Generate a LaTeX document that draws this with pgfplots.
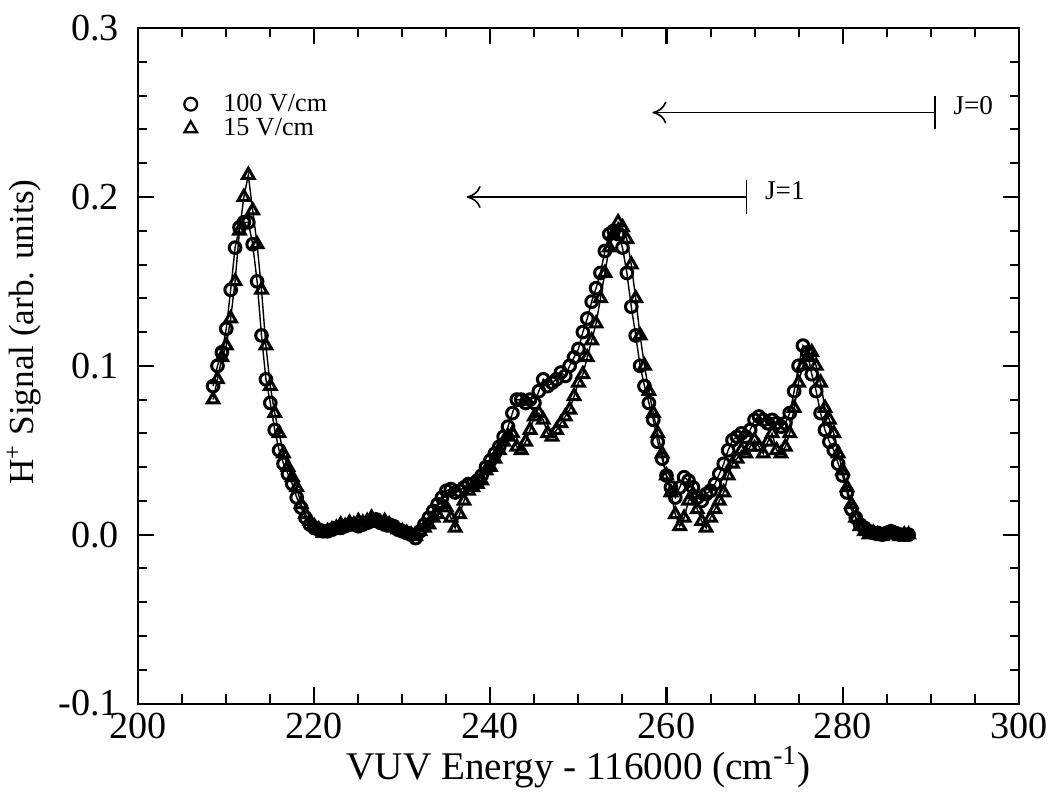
\documentclass[border=0pt]{standalone}
\usepackage{fontspec}
\setmainfont{Liberation Serif}
\usepackage{pgfplots}
\pgfplotsset{compat=1.18}
\usepackage{pgfplotstable}
\usetikzlibrary{arrows.meta}

\pgfplotstableread{
x y
208.5 0.088
209 0.100
209.5 0.108
210 0.122
210.5 0.145
211 0.170
211.5 0.182
212 0.185
212.5 0.185
213 0.172
213.5 0.150
214 0.118
214.5 0.092
215 0.078
215.5 0.062
216 0.050
216.5 0.042
217 0.036
217.5 0.030
218 0.022
218.5 0.016
219 0.010
219.5 0.006
220 0.004
220.5 0.003
221 0.002
221.5 0.002
222 0.003
222.5 0.004
223 0.004
223.5 0.005
224 0.006
224.5 0.006
225 0.005
225.5 0.006
226 0.007
226.5 0.008
227 0.009
227.5 0.007
228 0.006
228.5 0.006
229 0.005
229.5 0.003
230 0.002
230.5 0.001
231 0.000
231.5 -0.002
232 0.002
232.5 0.006
233 0.010
233.5 0.014
234 0.018
234.5 0.022
235 0.026
235.5 0.027
236 0.025
236.5 0.026
237 0.028
237.5 0.030
238 0.030
238.5 0.032
239 0.035
239.5 0.040
240 0.044
240.5 0.048
241 0.052
241.5 0.058
242 0.064
242.5 0.072
243 0.080
243.5 0.080
244 0.078
244.5 0.080
245 0.078
245.5 0.085
246 0.092
246.5 0.088
247 0.090
247.5 0.092
248 0.096
248.5 0.094
249 0.100
249.5 0.105
250 0.110
250.5 0.120
251 0.128
251.5 0.138
252 0.146
252.5 0.155
253 0.168
253.5 0.178
254 0.180
254.5 0.178
255 0.170
255.5 0.155
256 0.135
256.5 0.118
257 0.100
257.5 0.088
258 0.078
258.5 0.068
259 0.055
259.5 0.045
260 0.035
260.5 0.028
261 0.022
261.5 0.028
262 0.034
262.5 0.032
263 0.028
263.5 0.022
264 0.020
264.5 0.024
265 0.026
265.5 0.030
266 0.036
266.5 0.042
267 0.050
267.5 0.056
268 0.058
268.5 0.060
269 0.058
269.5 0.062
270 0.068
270.5 0.070
271 0.068
271.5 0.066
272 0.068
272.5 0.066
273 0.064
273.5 0.066
274 0.072
274.5 0.085
275 0.100
275.5 0.112
276 0.108
276.5 0.095
277 0.085
277.5 0.072
278 0.062
278.5 0.055
279 0.050
279.5 0.042
280 0.035
280.5 0.025
281 0.015
281.5 0.010
282 0.006
282.5 0.004
283 0.002
283.5 0.001
284 0.001
284.5 0.000
285 0.001
285.5 0.002
286 0.001
286.5 0.000
287 0.000
287.5 0.000
}\hundred

\pgfplotstableread{
x y
208.5 0.080
209 0.092
209.5 0.105
210 0.112
210.5 0.128
211 0.150
211.5 0.180
212 0.200
212.5 0.213
213 0.192
213.5 0.172
214 0.145
214.5 0.112
215 0.088
215.5 0.072
216 0.060
216.5 0.048
217 0.040
217.5 0.034
218 0.028
218.5 0.018
219 0.012
219.5 0.008
220 0.005
220.5 0.003
221 0.001
221.5 0.002
222 0.003
222.5 0.004
223 0.006
223.5 0.005
224 0.007
224.5 0.006
225 0.008
225.5 0.007
226 0.008
226.5 0.010
227 0.008
227.5 0.007
228 0.008
228.5 0.006
229 0.004
229.5 0.003
230 0.002
230.5 0.001
231 0.000
231.5 -0.001
232 0.002
232.5 0.004
233 0.006
233.5 0.010
234 0.012
234.5 0.018
235 0.016
235.5 0.010
236 0.004
236.5 0.012
237 0.020
237.5 0.026
238 0.028
238.5 0.030
239 0.032
239.5 0.038
240 0.040
240.5 0.045
241 0.050
241.5 0.055
242 0.058
242.5 0.060
243 0.052
243.5 0.050
244 0.055
244.5 0.062
245 0.070
245.5 0.072
246 0.068
246.5 0.060
247 0.058
247.5 0.062
248 0.066
248.5 0.070
249 0.074
249.5 0.082
250 0.090
250.5 0.095
251 0.105
251.5 0.115
252 0.125
252.5 0.140
253 0.155
253.5 0.170
254 0.178
254.5 0.185
255 0.182
255.5 0.175
256 0.160
256.5 0.140
257 0.118
257.5 0.100
258 0.085
258.5 0.072
259 0.060
259.5 0.048
260 0.035
260.5 0.025
261 0.012
261.5 0.005
262 0.010
262.5 0.020
263 0.024
263.5 0.015
264 0.008
264.5 0.004
265 0.010
265.5 0.015
266 0.020
266.5 0.025
267 0.035
267.5 0.042
268 0.045
268.5 0.050
269 0.048
269.5 0.052
270 0.056
270.5 0.052
271 0.048
271.5 0.055
272 0.060
272.5 0.050
273 0.048
273.5 0.052
274 0.060
274.5 0.075
275 0.090
275.5 0.100
276 0.105
276.5 0.108
277 0.100
277.5 0.090
278 0.075
278.5 0.068
279 0.060
279.5 0.048
280 0.038
280.5 0.028
281 0.018
281.5 0.010
282 0.005
282.5 0.002
283 0.000
283.5 0.001
284 0.000
284.5 -0.001
285 0.000
285.5 0.001
286 0.000
286.5 -0.001
287 0.000
287.5 0.000
}\fifteen

\begin{document}
\begin{tikzpicture}
\begin{axis}[
  scale only axis,
  width=438pt, height=336pt,
  xmin=200, xmax=300, ymin=-0.1, ymax=0.3,
  xtick={200,220,...,300},
  xticklabels={200,220,240,260,280,300},
  minor xtick={205,210,215,225,230,235,245,250,255,265,270,275,285,290,295},
  ytick={-0.1,0,0.1,0.2,0.3},
  yticklabels={-0.1,0.0,0.1,0.2,0.3},
  minor ytick={-0.08,-0.06,-0.04,-0.02,0.02,0.04,0.06,0.08,0.12,0.14,0.16,0.18,0.22,0.24,0.26,0.28},
  tick align=inside,
  xtick pos=both, ytick pos=both,
  major tick length=8pt,
  minor tick length=4.5pt,
  tick style={black, line width=1pt},
  axis line style={line width=1pt},
  tick label style={font=\fontsize{19}{21}\selectfont},
  yticklabel style={xshift=-6pt},
  xticklabel style={yshift=-1pt},
  xlabel={VUV Energy - 116000 (cm\textsuperscript{-1})},
  ylabel={H\textsuperscript{+} Signal (arb. units)},
  xlabel style={font=\fontsize{19.5}{22}\selectfont, yshift=3pt},
  ylabel style={font=\fontsize{17.5}{20}\selectfont, at={(ticklabel cs:0.55)}, yshift=2pt},
  legend style={draw=none, fill=none, at={(0.045,0.915)}, anchor=north west,
    font=\fontsize{13}{15}\selectfont, row sep=-2pt},
  legend cell align=left,
]
\addlegendimage{only marks, mark=o, mark size=3.2pt, line width=1.1pt, black}
\addlegendentry{\hspace*{11pt}100 V/cm}
\addlegendimage{only marks, mark=triangle, mark size=3.6pt, line width=1.1pt, black}
\addlegendentry{\hspace*{11pt}15 V/cm}
\addplot[forget plot, black, line width=0.7pt, mark=triangle, mark size=3.3pt,
  mark options={line width=1.5pt, solid}] table[x=x,y=y] {\fifteen};
\addplot[forget plot, black, line width=0.7pt, mark=o, mark size=2.9pt,
  mark options={line width=1.5pt, solid, fill=white}] table[x=x,y=y] {\hundred};
\draw[-{To[length=7pt,width=11pt]}, line width=0.8pt] (axis cs:290.5,0.250) -- (axis cs:258.4,0.250);
\draw[line width=0.8pt] (axis cs:290.5,0.240) -- (axis cs:290.5,0.260);
\node[anchor=west, font=\fontsize{13.5}{15}\selectfont] at (axis cs:291.8,0.254) {J=0};
\draw[-{To[length=7pt,width=11pt]}, line width=0.8pt] (axis cs:269.1,0.200) -- (axis cs:237.3,0.200);
\draw[line width=0.8pt] (axis cs:269.1,0.190) -- (axis cs:269.1,0.210);
\node[anchor=west, font=\fontsize{13.5}{15}\selectfont] at (axis cs:270.4,0.204) {J=1};
\end{axis}
\path (current axis.north) -- ++(0,14pt);
\end{tikzpicture}
\end{document}
